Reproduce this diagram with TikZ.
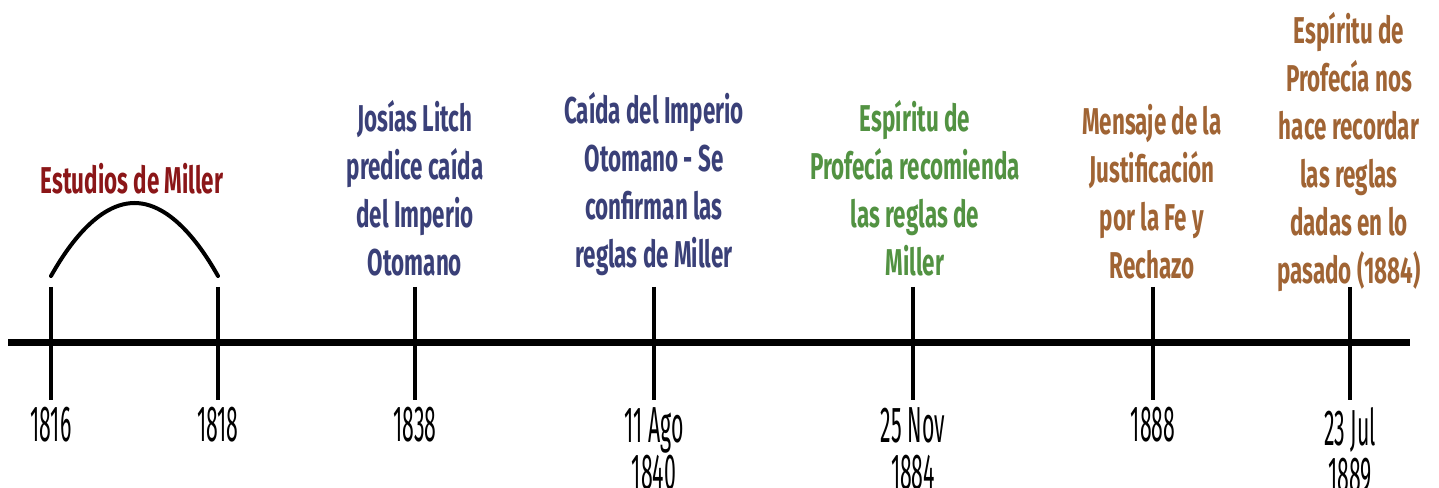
\documentclass[tikz,border=0pt]{standalone}
\usepackage{fontspec}
\setmainfont{Fira Sans}
\newfontfamily\labelfont{Fira Sans Bold}[FakeStretch=0.6]
\newfontfamily\datefont{Fira Sans}[FakeStretch=0.42]

\definecolor{millerred}{RGB}{139,22,24}
\definecolor{otoblue}{RGB}{58,64,120}
\definecolor{profgreen}{RGB}{82,146,66}
\definecolor{justbrown}{RGB}{160,100,52}

\tikzset{
  event/.style={align=center,inner sep=0pt,anchor=south,
    font=\labelfont\fontsize{28}{36}\selectfont},
  date/.style={align=center,inner sep=0pt,anchor=north,
    font=\datefont\fontsize{38}{35.25}\selectfont},
  tick/.style={line width=3pt},
}

\begin{document}
\begin{tikzpicture}[x=0.75pt,y=-0.75pt]
  \useasboundingbox (0,0) rectangle (1439,488);

  % main line
  \coordinate (start) at (8,343);
  \coordinate (end)   at (1410,343);
  \draw[line width=5.25pt] (start) -- (end);

  \begin{scope}
    \coordinate (1a) at (51,287);   \coordinate (1b) at (51,400);
    \coordinate (2a) at (218,287);  \coordinate (2b) at (218,400);
    \coordinate (3a) at (415,287);  \coordinate (3b) at (415,400);
    \coordinate (4a) at (654,287);  \coordinate (4b) at (654,400);
    \coordinate (5a) at (913,287);  \coordinate (5b) at (913,400);
    \coordinate (6a) at (1153,287); \coordinate (6b) at (1153,400);
    \coordinate (7a) at (1350,287); \coordinate (7b) at (1350,400);
  \end{scope}

  \begin{scope}[every path/.style={tick}]
    \draw (1a) -- (1b);
    \draw (2a) -- (2b);
    \draw (3a) -- (3b);
    \draw (4a) -- (4b);
    \draw (5a) -- (5b);
    \draw (6a) -- (6b);
    \draw (7a) -- (7b);
  \end{scope}

  % arc over 1816--1818
  \coordinate (arcL) at (51,276);
  \coordinate (arcR) at (218,276);
  \draw[line width=3pt,line cap=round] (arcL) parabola bend (134.5,203) (arcR);

  % dates
  \begin{scope}[every node/.style={date}]
    \node (d1) at (51,407)   {1816};
    \node (d2) at (218,407)  {1818};
    \node (d3) at (415,407)  {1838};
    \node (d4) at (654,407)  {11 Ago\\1840};
    \node (d5) at (913,407)  {25 Nov\\1884};
    \node (d6) at (1153,407) {1888};
    \node (d7) at (1350,407) {23 Jul\\1889};
  \end{scope}

  % events
  \begin{scope}[every node/.style={event}]
    \node[text=millerred] (miller) at (132,194) {Estudios de Miller};
    \node[text=otoblue] (litch) at (415,276)
      {Josías Litch\\predice caída\\del Imperio\\Otomano};
    \node[text=otoblue] (caida) at (654,276)
      {Caída del Imperio\\Otomano - Se\\confirman las\\reglas de Miller};
    \node[text=profgreen] (ep1) at (915,276)
      {Espíritu de\\Profecía recomienda\\las reglas de\\Miller};
    \node[text=justbrown] (just) at (1152,279)
      {Mensaje de la\\Justificación\\por la Fe y\\Rechazo};
    \node[text=justbrown] (ep2) at (1349,292)
      {Espíritu de\\Profecía nos\\hace recordar\\las reglas\\dadas en lo\\pasado (1884)};
  \end{scope}

\end{tikzpicture}
\end{document}
